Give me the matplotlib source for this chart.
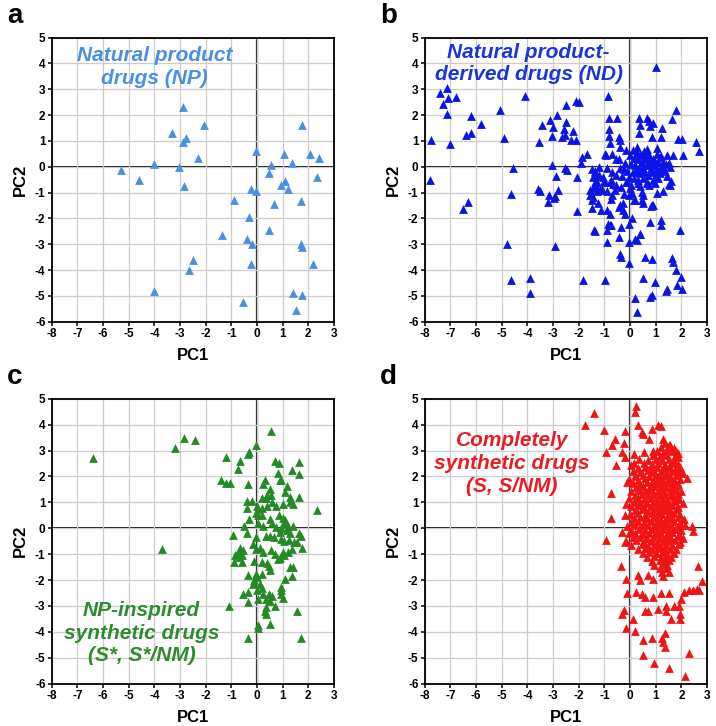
import matplotlib
matplotlib.use("Agg")
import matplotlib.pyplot as plt

plt.rcParams['font.family'] = ['Liberation Sans', 'DejaVu Sans']
plt.rcParams['axes.unicode_minus'] = False

# ---------------- data ----------------
pts_a = [(-2.9, 2.3), (-2.05, 1.6), (-3.3, 1.3), (-2.75, 1.1), (-2.9, 0.95), (-2.3, 0.35),
         (-4.0, 0.12), (-3.05, 0.0), (-5.3, -0.12), (-4.6, -0.5), (-2.85, -0.75), (-0.05, 0.6),
         (1.05, 0.5), (1.75, 1.6), (2.05, 0.48), (2.4, 0.35), (1.35, 0.15), (0.55, 0.05),
         (0.45, -0.25), (2.35, -0.38), (1.1, -0.55), (0.95, -0.72), (1.2, -0.88), (-0.25, -0.88),
         (-0.05, -0.92), (-0.9, -1.3), (0.65, -1.45), (1.7, -1.32), (-0.3, -1.95), (0.45, -2.45),
         (-1.35, -2.65), (-0.4, -2.78), (-0.2, -2.98), (1.7, -2.98), (1.75, -3.12), (-2.5, -3.6),
         (-2.65, -4.0), (-0.25, -3.75), (2.2, -3.75), (-4.0, -4.8), (1.4, -4.9), (1.75, -4.95),
         (-0.55, -5.25), (1.5, -5.55)]

pts_b = [
    # far left
    (-7.15, 3.05), (-7.4, 2.85), (-6.8, 2.7), (-7.1, 2.65), (-7.3, 2.45), (-7.15, 2.05),
    (-6.2, 1.95), (-5.8, 1.65), (-6.2, 1.3), (-6.4, 1.25), (-7.0, 0.9), (-7.75, 1.05),
    (-5.05, 2.2), (-4.9, 1.1), (-4.1, 2.75), (-7.8, -0.5), (-6.5, -1.65), (-6.3, -1.35),
    (-4.55, -0.05), (-4.65, -1.05), (-4.8, -3.0), (-4.65, -4.4), (-3.9, -4.3), (-3.9, -4.9),
    (-3.45, 1.6), (-3.55, 0.95), (-3.6, -0.85), (-3.5, -0.95),
    # upper middle / right
    (1.03, 3.85), (-0.87, 2.75), (-2.1, 2.55), (-1.98, 2.5), (-2.5, 2.38), (-2.85, 2.02),
    (-3.1, 1.82), (-2.5, 1.75), (-0.82, 1.9), (-0.49, 1.9), (0.34, 1.88), (0.65, 1.9),
    (0.74, 1.78), (0.91, 1.7), (0.39, 1.62), (0.78, 1.58), (1.26, 1.49), (1.79, 2.2),
    (1.65, 1.84), (-2.99, 1.55), (-2.57, 1.47), (-2.23, 1.38), (-0.82, 1.48), (-0.82, 1.2),
    (-3.04, 1.18), (-2.65, 1.15), (-2.55, 1.25), (-2.32, 1.03), (-2.1, 1.02), (-0.43, 1.15),
    (-0.39, 1.03), (-0.78, 0.92), (0.36, 1.3), (0.84, 1.15), (1.21, 1.15), (1.86, 1.07),
    (2.04, 1.07), (2.56, 0.96), (2.7, 0.63), (-0.39, 0.75), (0.26, 0.75), (0.65, 0.7),
    (1.04, 0.73), (1.43, 0.45), (1.69, 0.45), (2.08, 0.45), (-1.69, 0.5), (-1.86, 0.38),
    (-1.9, 0.15), (-0.97, 0.5), (-0.43, 0.32), (-3.05, 0.05), (0.1, 0.65), (0.26, 0.55),
    (0.45, 0.45), (0.58, 0.36), (0.78, 0.26), (0.97, 0.19), (1.17, 0.39), (1.3, 0.19),
    (1.5, 0.15),
    # middle-left band
    (-2.9, -0.35), (-2.55, -0.05), (-2.45, -0.12), (-2.05, -0.4), (-1.5, -0.1), (-1.35, -0.2),
    (-1.3, -0.35), (-3.15, -1.1), (-2.92, -1.15), (-2.8, -0.9), (-3.2, -1.35), (-2.95, -1.2),
    (-1.37, -0.6), (-0.97, -0.6), (-0.78, -0.6), (-0.65, -0.67), (-0.1, -0.6), (0.32, -0.64),
    (0.65, -0.64), (0.97, -0.62), (1.5, -0.67), (-1.3, -0.78), (-1.43, -0.84),
    # lower region
    (-1.56, -1.1), (-1.43, -1.16), (-1.49, -1.29), (-1.23, -1.42), (-1.49, -1.61), (-1.13, -1.68),
    (-2.08, -1.7), (-0.91, -1.68), (-0.78, -1.81), (-0.71, -1.1), (-1.17, -0.9), (-0.39, -1.49),
    (-0.45, -1.55), (-0.26, -1.42), (-0.26, -1.68), (-0.19, -1.81), (0.0, -0.84), (0.06, -1.03),
    (-0.06, -1.1), (0.19, -1.29), (0.45, -0.97), (0.52, -1.1), (0.45, -1.29), (0.52, -1.42),
    (0.84, -1.49), (0.91, -1.49), (1.04, -1.01), (0.06, -2.0), (-0.06, -2.2), (0.78, -2.13),
    (1.21, -2.07), (1.2, -2.26), (1.95, -2.45), (-0.84, -2.2), (-0.78, -2.26), (-1.36, -2.48),
    (-0.91, -2.45), (-0.35, -2.33), (-0.42, -2.71), (0.39, -2.61), (0.26, -2.84), (-0.06, -2.91),
    (-0.91, -2.91), (-2.92, -3.07), (-0.39, -3.36), (-0.36, -3.51), (-0.04, -3.72), (0.58, -3.51),
    (0.84, -3.59), (1.62, -3.55), (1.69, -3.68), (1.79, -3.98), (-1.82, -4.39), (-0.97, -4.37),
    (0.52, -4.29), (0.97, -4.46), (1.43, -4.72), (1.4, -4.81), (1.84, -4.59), (2.0, -4.26),
    (2.03, -4.75), (0.19, -5.1), (0.78, -5.06), (0.84, -4.97), (0.26, -5.62),
    (-1.4, -2.45), (-0.75, -2.25), (0.2, -2.8), (0.4, -2.6), (0.15, -1.3), (0.8, -1.5),
    (1.3, -0.95), (1.55, -0.7),
    # dense core
    (0.0, 0.45), (0.15, 0.35), (0.3, 0.3), (0.45, 0.2), (0.6, 0.3), (0.75, 0.15), (0.9, 0.3),
    (1.1, 0.2), (1.25, 0.05), (1.4, 0.1), (1.55, 0.0), (-0.2, 0.15), (0.05, 0.1), (0.2, 0.05),
    (0.35, 0.0), (0.5, -0.05), (0.65, 0.05), (0.8, -0.05), (0.95, 0.05), (1.05, -0.1),
    (1.2, -0.05), (1.35, -0.15), (-0.4, -0.05), (-0.25, -0.1), (-0.1, -0.15), (0.1, -0.2),
    (0.25, -0.15), (0.4, -0.25), (0.55, -0.2), (0.7, -0.3), (0.85, -0.2), (1.0, -0.3),
    (1.15, -0.25), (1.45, -0.35), (-0.55, -0.3), (-0.3, -0.35), (-0.05, -0.4), (0.15, -0.45),
    (0.3, -0.5), (0.5, -0.45), (0.65, -0.6), (0.9, -0.5), (1.1, -0.45), (1.6, -0.55),
    (-0.15, -0.6), (0.05, -0.7), (0.4, -0.75), (0.75, -0.7), (-0.7, -0.2), (-0.9, -0.05),
    (-1.05, -0.4), (-1.2, -0.3), (-1.35, -0.15), (-1.45, -0.4), (-1.3, -0.6), (-1.0, -0.55),
    (-0.75, -0.5), (-0.55, -0.7), (-1.4, -0.75), (-1.55, -0.9), (-1.3, -0.95), (-1.1, -0.85),
    (-0.9, -0.95), (-0.6, -0.9), (-0.35, -0.8), (-0.25, -1.05), (-0.75, -1.25), (-1.2, 0.0),
    (-0.15, 0.65), (0.4, 0.5), (0.55, 0.6), (0.75, 0.45), (1.05, 0.5), (1.2, 0.4),
    (-0.55, 0.3), (-0.7, 0.5), (-0.95, 0.45)]

pts_c = [(-6.4, 2.7), (-3.2, 3.1), (-2.85, 3.5), (-2.4, 3.4), (-3.7, -0.8), (0.55, 3.75),
         (-0.05, 3.2), (-0.3, 2.95), (-0.35, 2.85), (-1.2, 2.75), (-0.65, 2.6), (-0.75, 2.3),
         (-1.4, 1.85), (-1.2, 1.75), (-1.05, 1.75), (-0.35, 1.7), (0.7, 2.6), (0.85, 2.5),
         (0.8, 2.15), (1.65, 2.55), (1.65, 2.1), (1.35, 2.25), (2.35, 0.7), (1.65, 1.2),
         (1.3, 1.2), (1.15, 1.65), (1.1, 1.4), (0.3, 1.85), (0.25, 1.7), (0.5, 1.5), (0.4, 1.3),
         (0.55, 1.3), (0.2, 1.15), (0.35, 1.15), (0.9, 1.85), (0.95, 1.85), (0.75, 0.85),
         (1.0, 0.95), (1.3, 1.0), (1.4, 0.95), (-0.4, 1.05), (-0.2, 1.05), (-0.4, 0.8),
         (0.0, 0.85), (0.05, 0.75), (0.2, 0.8), (0.4, 0.85), (0.6, 1.0), (-0.3, 0.35),
         (-0.05, 0.6), (0.05, 0.5), (0.2, 0.5), (0.5, 0.35), (0.85, 0.5), (1.0, 0.4), (1.1, 0.3),
         (1.2, 0.1), (-0.5, 0.1), (0.05, 0.2), (0.25, 0.1), (0.6, 0.2), (0.75, 0.05), (0.95, 0.0),
         (1.05, 0.15), (1.15, -0.05), (1.4, 0.1), (-0.95, -0.25), (-0.4, -0.2), (-0.05, -0.35),
         (0.35, -0.3), (0.5, -0.3), (0.65, -0.35), (0.9, -0.15), (0.95, -0.4), (1.05, -0.5),
         (1.25, -0.45), (1.3, -0.2), (1.45, -0.55), (1.7, -0.3), (1.75, -0.75), (1.65, -0.2),
         (1.55, -0.55), (-0.65, -0.75), (-0.55, -0.85), (-0.6, -1.05), (-0.75, -0.9),
         (-0.85, -1.05), (-0.9, -1.3), (-0.6, -1.3), (-0.7, -1.1), (-0.15, -0.6), (-0.05, -0.8),
         (0.1, -0.75), (0.25, -0.9), (0.55, -0.85), (0.7, -1.0), (1.0, -0.9), (1.05, -1.05),
         (1.2, -0.9), (1.35, -0.8), (0.8, -1.2), (0.9, -1.15), (-0.1, -1.25), (0.2, -1.3),
         (0.4, -1.35), (0.45, -1.45), (0.5, -1.6), (1.3, -1.5), (1.4, -1.5), (1.35, -1.85),
         (1.1, -1.95), (-0.35, -1.8), (-0.05, -1.75), (0.0, -1.9), (-0.1, -2.0), (-0.15, -2.15),
         (0.2, -1.75), (0.1, -2.15), (0.2, -2.3), (0.0, -2.4), (0.95, -2.25), (0.95, -2.4),
         (0.95, -2.55), (1.0, -2.7), (-0.55, -2.55), (-0.35, -2.45), (-0.35, -2.85), (0.05, -2.75),
         (0.25, -2.55), (0.35, -2.75), (0.45, -2.55), (0.6, -2.6), (0.7, -3.0), (0.35, -3.05),
         (0.3, -3.2), (0.35, -3.3), (0.5, -2.8), (-1.1, -3.0), (1.55, -3.2), (0.05, -3.85),
         (0.05, -3.75), (0.5, -3.7), (-0.35, -4.25), (1.7, -4.25)]

pts_d = [
    # outliers
    (-1.4, 4.45), (-1.75, 4.0), (-1.0, 3.8), (-0.95, 2.95), (-0.55, 2.45), (-0.6, 3.45),
    (-0.7, 3.2), (-0.25, 3.3), (-0.2, 3.75), (-0.3, 2.95), (-0.2, 2.75), (-0.75, 1.35),
    (-0.75, 0.4), (-0.95, -0.45), (-0.3, -0.15), (-0.2, -0.55), (-0.35, -1.45), (-0.15, -1.95),
    (-0.1, -2.5), (-0.25, -3.15), (-0.3, -3.3), (-0.15, -3.85), (0.1, -3.5), (0.2, -3.95),
    (0.25, -2.45), (0.3, -1.8), (0.4, -2.0), (0.45, -2.55), (0.5, -4.3), (0.5, -4.9),
    (0.6, -3.2), (0.7, -3.2), (0.6, -2.65), (0.7, -1.8), (0.9, -1.95), (0.9, -2.65),
    (0.85, -4.25), (0.95, -5.2), (1.1, -3.1), (1.2, -2.5), (1.25, -4.25), (1.3, -4.4),
    (1.35, -4.6), (1.35, -4.05), (1.5, -5.4), (1.4, -3.0), (1.4, -3.2), (1.5, -2.5),
    (1.6, -3.5), (1.7, -3.0), (1.9, -3.0), (1.95, -3.3), (1.95, -3.5), (2.0, -2.75),
    (2.15, -5.7), (2.3, -4.8), (2.1, -2.45), (2.3, -2.4), (2.45, -2.4), (2.6, -2.35),
    (2.7, -2.4), (2.8, -2.05), (2.65, -1.45), (2.45, -0.1), (0.25, 4.7), (0.2, 4.5),
    (0.3, 4.0), (0.45, 3.7), (0.5, 3.65), (0.55, 2.95), (0.75, 3.45), (0.9, 3.0), (0.85, 3.85),
    (1.1, 4.0), (1.2, 3.95), (1.3, 3.45), (1.5, 3.2), (1.8, 3.0), (1.85, 2.75), (2.2, 1.95),
    (2.4, 0.1), (-0.1, 1.8), (-0.15, 0.95), (-0.2, 0.5), (0.05, 2.45), (0.15, 2.85),
    # dense body
    (1.35, 3.28), (1.55, 3.22), (1.2, 3.12), (1.45, 3.05), (1.7, 3.1), (1.05, 2.97),
    (1.3, 2.92), (1.6, 2.98), (1.85, 2.9), (0.9, 2.82), (1.15, 2.78), (1.4, 2.83), (1.75, 2.77),
    (0.35, 2.67), (0.7, 2.62), (1.0, 2.68), (1.25, 2.63), (1.5, 2.66), (1.7, 2.6),
    (0.15, 2.5), (0.55, 2.53), (0.85, 2.47), (1.1, 2.52), (1.35, 2.46), (1.6, 2.51), (1.85, 2.48),
    (0.3, 2.33), (0.6, 2.38), (0.8, 2.31), (1.05, 2.36), (1.3, 2.33), (1.5, 2.37), (1.75, 2.3),
    (1.95, 2.36), (0.1, 2.2), (0.4, 2.17), (0.7, 2.23), (0.95, 2.18), (1.2, 2.22), (1.45, 2.16),
    (1.65, 2.21), (1.9, 2.19), (2.05, 2.12), (0.2, 2.03), (0.5, 2.07), (0.75, 2.02), (1.0, 2.06),
    (1.15, 2.01), (1.35, 2.05), (1.55, 2.0), (1.8, 2.06), (-0.05, 1.9), (0.3, 1.88), (0.6, 1.93),
    (0.9, 1.87), (1.1, 1.92), (1.3, 1.86), (1.5, 1.91), (1.7, 1.88), (1.95, 1.92),
    (0.1, 1.75), (0.4, 1.72), (0.65, 1.78), (0.85, 1.73), (1.05, 1.76), (1.25, 1.71),
    (1.45, 1.77), (1.65, 1.74), (1.85, 1.7), (0.25, 1.6), (0.5, 1.63), (0.75, 1.57), (0.95, 1.62),
    (1.2, 1.58), (1.4, 1.61), (1.6, 1.56), (1.8, 1.63), (0.05, 1.45), (0.35, 1.48), (0.6, 1.43),
    (0.85, 1.47), (1.1, 1.42), (1.3, 1.46), (1.55, 1.44), (1.75, 1.49), (2.0, 1.43),
    (0.2, 1.3), (0.45, 1.33), (0.7, 1.28), (0.95, 1.31), (1.15, 1.27), (1.35, 1.32), (1.6, 1.29),
    (1.85, 1.34), (-0.05, 1.15), (0.3, 1.18), (0.55, 1.13), (0.8, 1.17), (1.0, 1.12), (1.25, 1.16),
    (1.45, 1.14), (1.7, 1.19), (1.9, 1.12), (0.15, 1.0), (0.4, 1.03), (0.65, 0.98), (0.9, 1.02),
    (1.1, 0.97), (1.3, 1.01), (1.5, 0.99), (1.75, 1.04), (2.05, 0.98), (0.05, 0.85), (0.3, 0.88),
    (0.55, 0.83), (0.8, 0.86), (1.0, 0.82), (1.2, 0.87), (1.4, 0.84), (1.65, 0.89), (1.85, 0.83),
    (0.2, 0.7), (0.45, 0.73), (0.7, 0.68), (0.9, 0.72), (1.15, 0.67), (1.35, 0.71), (1.55, 0.69),
    (1.8, 0.74), (0.0, 0.55), (0.3, 0.58), (0.6, 0.53), (0.85, 0.57), (1.05, 0.52), (1.25, 0.56),
    (1.5, 0.54), (1.7, 0.59), (1.95, 0.52), (0.15, 0.4), (0.4, 0.43), (0.65, 0.38), (0.95, 0.42),
    (1.15, 0.37), (1.4, 0.41), (1.6, 0.39), (1.85, 0.44), (2.1, 0.37), (0.05, 0.25), (0.3, 0.28),
    (0.55, 0.23), (0.8, 0.27), (1.0, 0.22), (1.25, 0.26), (1.45, 0.24), (1.7, 0.29), (1.95, 0.22),
    (-0.1, 0.1), (0.2, 0.13), (0.45, 0.08), (0.7, 0.12), (0.95, 0.07), (1.15, 0.11), (1.35, 0.09),
    (1.6, 0.14), (1.85, 0.07), (2.15, 0.12), (0.05, -0.05), (0.35, -0.02), (0.6, -0.07),
    (0.85, -0.03), (1.1, -0.08), (1.3, -0.04), (1.5, -0.06), (1.75, -0.01), (2.0, -0.08),
    (-0.05, -0.2), (0.2, -0.17), (0.5, -0.22), (0.75, -0.18), (1.0, -0.23), (1.2, -0.19),
    (1.45, -0.21), (1.65, -0.16), (1.9, -0.23), (0.1, -0.35), (0.4, -0.32), (0.65, -0.37),
    (0.9, -0.33), (1.15, -0.38), (1.4, -0.34), (1.6, -0.36), (1.85, -0.31), (2.05, -0.38),
    (-0.15, -0.5), (0.25, -0.47), (0.55, -0.52), (0.8, -0.48), (1.05, -0.53), (1.3, -0.49),
    (1.5, -0.51), (1.75, -0.46), (1.95, -0.53), (0.05, -0.65), (0.45, -0.62), (0.7, -0.67),
    (0.95, -0.63), (1.2, -0.68), (1.4, -0.64), (1.65, -0.66), (1.9, -0.61), (0.3, -0.8),
    (0.6, -0.77), (0.85, -0.82), (1.1, -0.78), (1.35, -0.83), (1.55, -0.79), (1.8, -0.81),
    (0.5, -0.95), (0.75, -0.92), (1.0, -0.97), (1.25, -0.93), (1.45, -0.98), (1.7, -0.94),
    (0.65, -1.1), (0.95, -1.07), (1.2, -1.12), (1.4, -1.08), (1.6, -1.11), (0.85, -1.25),
    (1.15, -1.22), (1.35, -1.27), (1.5, -1.23), (0.95, -1.4), (1.3, -1.37), (1.45, -1.42),
    (1.15, -1.55), (1.4, -1.52), (1.25, -1.7), (1.5, -1.67), (1.3, -1.85)]

panels = [
    ("a", pts_a, "#4a90e2", "Natural product\ndrugs (NP)", (-4.0, 3.85), "#4a90e2"),
    ("b", pts_b, "#0a14e6", "Natural product-\nderived drugs (ND)", (-3.95, 4.0), "#1a35d8"),
    ("c", pts_c, "#258a25", "NP-inspired\nsynthetic drugs\n(S*, S*/NM)", (-4.5, -4.05), "#2e8b2e"),
    ("d", pts_d, "#f01414", "Completely\nsynthetic drugs\n(S, S/NM)", (-4.6, 2.5), "#ea1c24"),
]

xticks = list(range(-8, 4))
yticks = list(range(-6, 6))

fig = plt.figure(figsize=(7.16, 7.26), dpi=100)
axes_pos = [
    (0.0722, 0.5569, 0.3943, 0.3912),
    (0.5932, 0.5569, 0.3943, 0.3912),
    (0.0722, 0.0583, 0.3943, 0.3925),
    (0.5932, 0.0583, 0.3943, 0.3925),
]

for (letter, pts, color, label, (tx, ty), tcolor), pos in zip(panels, axes_pos):
    ax = fig.add_axes(pos)
    xs = [p[0] for p in pts]
    ys = [p[1] for p in pts]
    ax.set_xlim(-8, 3)
    ax.set_ylim(-6, 5)
    ax.set_xticks(xticks)
    ax.set_yticks(yticks)
    ax.grid(True, color="#cccccc", linewidth=0.9, zorder=0)
    ax.axhline(0, color="black", linewidth=1.3, zorder=1)
    ax.axvline(0, color="#222222", linewidth=1.6, zorder=1)
    ax.scatter(xs, ys, marker="^", s=40, color=color, linewidths=0, zorder=3)
    for sp in ax.spines.values():
        sp.set_linewidth(1.3)
        sp.set_color("black")
    ax.tick_params(axis="both", direction="out", length=3, width=1.1, labelsize=8.5, pad=1.5)
    for lab in ax.get_xticklabels() + ax.get_yticklabels():
        lab.set_fontweight("bold")
    ax.set_xlabel("PC1", fontsize=12, fontweight="bold", labelpad=6)
    ax.set_ylabel("PC2", fontsize=12, fontweight="bold", labelpad=5)
    ax.text(tx, ty, label, ha="center", va="center", color=tcolor, fontsize=15,
            fontweight="bold", fontstyle="italic", linespacing=1.25, zorder=4)
    bb = ax.get_position()
    fig.text(bb.x0 - 0.062, bb.y1 + 0.012, letter, fontsize=20, fontweight="bold",
             ha="left", va="bottom")

fig.savefig("out.png", dpi=100)
